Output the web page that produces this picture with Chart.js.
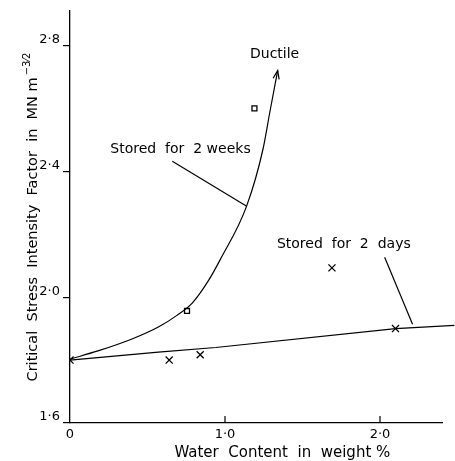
<!DOCTYPE html>
<html><head><meta charset="utf-8">
<script src="https://cdn.jsdelivr.net/npm/chart.js@4"></script>
<style>html,body{margin:0;padding:0;background:#fff}#wrap{width:455px;height:461px}</style>
</head><body><div id="wrap"><canvas id="c"></canvas></div>
<script>
// ---- data ----
const weeksCurveX = [0, 0.18, 0.40, 0.57, 0.69, 0.79, 0.89, 0.97, 1.14, 1.245, 1.29, 1.34];
const weeksCurveY = [1.803, 1.829, 1.867, 1.905, 1.942, 1.982, 2.05, 2.12, 2.29, 2.47, 2.59, 2.72];
const daysLineX = [0, 0.57, 0.94, 2.1, 2.48];
const daysLineY = [1.80, 1.825, 1.84, 1.90, 1.91];
const squareX = [0.755, 1.19];
const squareY = [1.956, 2.60];
const crossX = [0, 0.64, 0.84, 1.69, 2.10];
const crossY = [1.80, 1.80, 1.817, 2.093, 1.90];
const weeksLeaderX = [0.66, 1.14];
const weeksLeaderY = [2.432, 2.289];
const daysLeaderX = [2.03, 2.21];
const daysLeaderY = [2.127, 1.914];
const xTickValues = [0, 1, 2];
const xTickLabels = ['0', '1\u00B70', '2\u00B70'];
const yTickValues = [1.6, 2.0, 2.4, 2.8];
const yTickLabels = ['1\u00B76', '2\u00B70', '2\u00B74', '2\u00B78'];
const textLabels = ['Ductile', 'Stored  for  2 weeks', 'Stored  for  2  days'];
const xTitle = 'Water  Content  in  weight %';
const yTitle = 'Critical  Stress  Intensity  Factor  in  MN m';

const pts = (xs, ys) => xs.map((x, i) => ({x, y: ys[i]}));
const FONT = '"DejaVu Sans", sans-serif';

const annotate = {
  id: 'annotate',
  afterDatasetsDraw(chart) {
    const {ctx, scales: {x, y}, chartArea: ca} = chart;
    ctx.save();
    ctx.strokeStyle = '#000'; ctx.fillStyle = '#000'; ctx.lineWidth = 1.2;
    // upward x ticks
    xTickValues.forEach(v => {
      if (v === 0) return;
      const px = x.getPixelForValue(v);
      ctx.beginPath(); ctx.moveTo(px, ca.bottom); ctx.lineTo(px, ca.bottom - 7); ctx.stroke();
    });
    // arrowhead at end of the 2-weeks curve
    const n = weeksCurveX.length;
    const tx = x.getPixelForValue(weeksCurveX[n-1]), ty = y.getPixelForValue(weeksCurveY[n-1]);
    const sx = x.getPixelForValue(weeksCurveX[n-2]), sy = y.getPixelForValue(weeksCurveY[n-2]);
    const a = Math.atan2(ty - sy, tx - sx), L = 9, w = 0.35;
    ctx.beginPath();
    ctx.moveTo(tx - L*Math.cos(a - w), ty - L*Math.sin(a - w));
    ctx.lineTo(tx, ty);
    ctx.lineTo(tx - L*Math.cos(a + w), ty - L*Math.sin(a + w));
    ctx.stroke();
    // text labels
    ctx.font = '14px ' + FONT;
    ctx.textBaseline = 'middle';
    ctx.textAlign = 'center';
    ctx.fillText(textLabels[0], x.getPixelForValue(1.32), y.getPixelForValue(2.77));
    ctx.textAlign = 'left';
    ctx.fillText(textLabels[1], x.getPixelForValue(0.26), y.getPixelForValue(2.47));
    ctx.fillText(textLabels[2], x.getPixelForValue(1.335), y.getPixelForValue(2.168));
    // x title
    ctx.font = '15px ' + FONT;
    ctx.textAlign = 'center';
    ctx.fillText(xTitle, x.getPixelForValue(1.37), ca.bottom + 30);
    // y title (rotated)
    ctx.font = '14.5px ' + FONT;
    const wMain = ctx.measureText(yTitle).width;
    ctx.font = '10px ' + FONT;
    const wSup = ctx.measureText('\u22123\u20442').width;
    ctx.translate(33, 217);
    ctx.rotate(-Math.PI / 2);
    const start = -(wMain + wSup + 2) / 2;
    ctx.font = '14.5px ' + FONT;
    ctx.textAlign = 'left';
    ctx.fillText(yTitle, start, 0);
    ctx.font = '10px ' + FONT;
    ctx.fillText('\u22123\u20442', start + wMain + 2, -6);
    ctx.restore();
  }
};

new Chart(document.getElementById('c'), {
  type: 'scatter',
  data: {datasets: [
    {data: pts(weeksCurveX, weeksCurveY), showLine: true, borderColor: '#000', borderWidth: 1.2,
     pointRadius: 0, cubicInterpolationMode: 'monotone', fill: false},
    {data: pts(daysLineX, daysLineY), showLine: true, borderColor: '#000', borderWidth: 1.2,
     pointRadius: 0, fill: false, clip: false},
    {data: pts(weeksLeaderX, weeksLeaderY), showLine: true, borderColor: '#000', borderWidth: 1.2, pointRadius: 0},
    {data: pts(daysLeaderX, daysLeaderY), showLine: true, borderColor: '#000', borderWidth: 1.2, pointRadius: 0},
    {data: pts(squareX, squareY), pointStyle: 'rect', pointRadius: 3.5, borderColor: '#000',
     backgroundColor: '#fff', borderWidth: 1.3},
    {data: pts(crossX, crossY), pointStyle: 'crossRot', pointRadius: 5, borderColor: '#000', borderWidth: 1.3}
  ]},
  options: {
    responsive: true, maintainAspectRatio: false, animation: false,
    layout: {padding: {top: 10, right: 13, left: 0, bottom: 0}},
    plugins: {legend: {display: false}, tooltip: {enabled: false}},
    scales: {
      x: {type: 'linear', min: 0, max: 2.4,
          afterBuildTicks: s => { s.ticks = xTickValues.map(v => ({value: v})); },
          afterFit: s => { s.height = 38; },
          grid: {display: true, drawOnChartArea: false, drawTicks: false, tickLength: 0},
          border: {display: true, color: '#000', width: 1.3},
          ticks: {color: '#000', padding: 4, font: {family: FONT, size: 13},
                  callback: (v) => { const i = xTickValues.indexOf(v); return i >= 0 ? xTickLabels[i] : ''; },
                  maxRotation: 0}},
      y: {type: 'linear', min: 1.6, max: 2.91,
          afterBuildTicks: s => { s.ticks = yTickValues.map(v => ({value: v})); },
          afterFit: s => { s.width = 70; },
          grid: {display: true, drawOnChartArea: false, drawTicks: true, tickLength: 7, color: '#000', lineWidth: 1.2},
          border: {display: true, color: '#000', width: 1.3},
          ticks: {color: '#000', padding: 3, labelOffset: -6, font: {family: FONT, size: 13},
                  callback: (v) => { const i = yTickValues.findIndex(t => Math.abs(t - v) < 1e-9); return i >= 0 ? yTickLabels[i] : ''; }}}
    }
  },
  plugins: [annotate]
});
</script></body></html>
